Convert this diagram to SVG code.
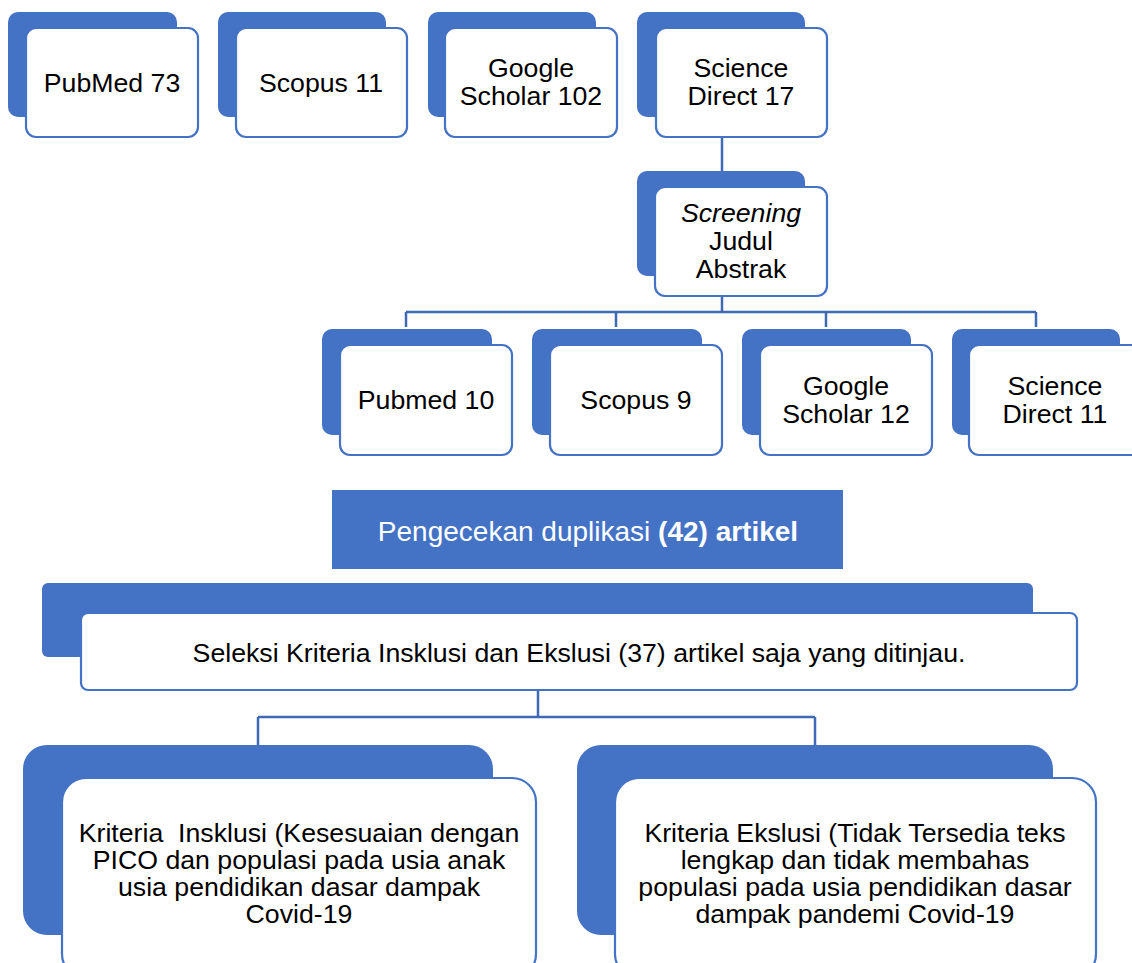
<svg xmlns="http://www.w3.org/2000/svg" width="1132" height="963" viewBox="0 0 1132 963">
<style>
.back{fill:#4472C4}
.front{fill:#fff;stroke:#4472C4;stroke-width:2.2}
.t{font-family:"Liberation Sans",Arial,sans-serif;font-size:26.7px;fill:#000;text-anchor:middle}
.w{fill:#fff;font-size:28px}
.conn{stroke:#3F69B5;stroke-width:2.5;fill:none}
</style>
<rect width="1132" height="963" fill="#fff"/>
<g id="connectors">
<path class="conn" d="M722,137V172"/>
<path class="conn" d="M722,296V312M406,312H1036M406,312V327M616,312V327M826,312V327M1036,312V327"/>
<path class="conn" d="M538,690V717M258,717H815M258,717V745M815,717V745"/>
</g>
<g id="pubmed73">
<rect class="back" x="8" y="12" width="169" height="105" rx="10"/>
<rect class="front" x="26" y="28" width="172" height="109" rx="10"/>
<text class="t" x="112" y="92">PubMed 73</text>
</g>
<g id="scopus11">
<rect class="back" x="218" y="12" width="168" height="105" rx="10"/>
<rect class="front" x="236" y="28" width="171" height="109" rx="10"/>
<text class="t" x="321" y="92">Scopus 11</text>
</g>
<g id="scholar102">
<rect class="back" x="428" y="12" width="168" height="105" rx="10"/>
<rect class="front" x="445" y="28" width="172" height="109" rx="10"/>
<text class="t" x="531" y="77">Google</text>
<text class="t" x="531" y="105">Scholar 102</text>
</g>
<g id="sciencedirect17">
<rect class="back" x="637" y="12" width="168" height="105" rx="10"/>
<rect class="front" x="656" y="28" width="171" height="109" rx="10"/>
<text class="t" x="741" y="77">Science</text>
<text class="t" x="741" y="105">Direct 17</text>
</g>
<g id="screening">
<rect class="back" x="637" y="171" width="168" height="105" rx="10"/>
<rect class="front" x="655" y="187" width="172" height="109" rx="10"/>
<text class="t" x="741" y="222" font-style="italic">Screening</text>
<text class="t" x="741" y="250">Judul</text>
<text class="t" x="741" y="278">Abstrak</text>
</g>
<g id="pubmed10">
<rect class="back" x="322" y="329" width="170" height="106" rx="10"/>
<rect class="front" x="340" y="345" width="172" height="110" rx="10"/>
<text class="t" x="426" y="409">Pubmed 10</text>
</g>
<g id="scopus9">
<rect class="back" x="532" y="329" width="170" height="106" rx="10"/>
<rect class="front" x="550" y="345" width="172" height="110" rx="10"/>
<text class="t" x="636" y="409">Scopus 9</text>
</g>
<g id="scholar12">
<rect class="back" x="742" y="329" width="169" height="106" rx="10"/>
<rect class="front" x="760" y="345" width="172" height="110" rx="10"/>
<text class="t" x="846" y="395">Google</text>
<text class="t" x="846" y="423">Scholar 12</text>
</g>
<g id="sciencedirect11">
<rect class="back" x="952" y="329" width="168" height="106" rx="10"/>
<rect class="front" x="969" y="345" width="172" height="110" rx="10"/>
<text class="t" x="1055" y="395">Science</text>
<text class="t" x="1055" y="423">Direct 11</text>
</g>
<g id="duplikasi">
<rect class="back" x="332" y="490" width="511" height="79"/>
<text class="t w" x="588" y="541">Pengecekan duplikasi <tspan font-weight="bold">(42) artikel</tspan></text>
</g>
<g id="seleksi">
<rect class="back" x="42" y="583" width="991" height="74" rx="6"/>
<rect class="front" x="81" y="613" width="996" height="77" rx="7"/>
<text class="t" x="579" y="662">Seleksi Kriteria Insklusi dan Ekslusi (37) artikel saja yang ditinjau.</text>
</g>
<g id="inklusi">
<rect class="back" x="23" y="745" width="470" height="190" rx="24"/>
<rect class="front" x="62" y="778" width="474" height="200" rx="24"/>
<text class="t" x="299" y="842" xml:space="preserve">Kriteria  Insklusi (Kesesuaian dengan</text>
<text class="t" x="299" y="869">PICO dan populasi pada usia anak</text>
<text class="t" x="299" y="896">usia pendidikan dasar dampak</text>
<text class="t" x="299" y="923">Covid-19</text>
</g>
<g id="eksklusi">
<rect class="back" x="577" y="745" width="476" height="190" rx="24"/>
<rect class="front" x="615" y="778" width="481" height="200" rx="24"/>
<text class="t" x="855" y="842">Kriteria Ekslusi (Tidak Tersedia teks</text>
<text class="t" x="855" y="869">lengkap dan tidak membahas</text>
<text class="t" x="855" y="896">populasi pada usia pendidikan dasar</text>
<text class="t" x="855" y="923">dampak pandemi Covid-19</text>
</g>
</svg>
